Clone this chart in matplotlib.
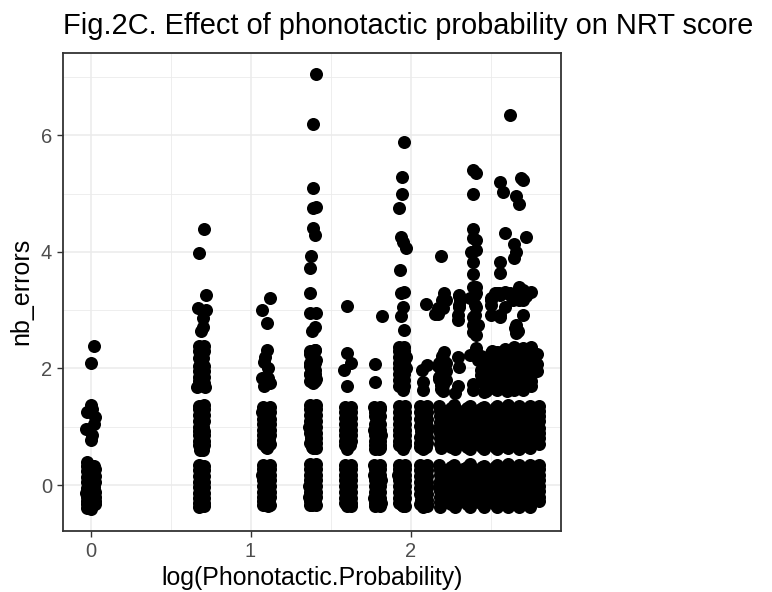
import matplotlib
matplotlib.use("Agg")
import matplotlib.pyplot as plt

plt.rcParams['font.family'] = ['Liberation Sans', 'DejaVu Sans']

title = "Fig.2C. Effect of phonotactic probability on NRT score"
x_label = "log(Phonotactic.Probability)"
y_label = "nb_errors"
x_major = [0, 1, 2]
x_minor = [0.5, 1.5, 2.5]
y_major = [0, 2, 4, 6]
y_minor = [1, 3, 5, 7]

# One pair of lists per probability column
x_c0 = [0.02,0.0,0.0,-0.025,0.03,-0.03,0.012,0.0,0.01,0.02, -0.02,0.02,-0.02,0.025,-0.025,0.02,-0.028,0.025,-0.02,0.025,-0.025,0.0,
        0.025,0.025,0.025,0.025,-0.025,-0.025,-0.025,-0.025,-0.025]
y_c0 = [2.38,2.09,1.38,1.25,1.17,0.96,0.86,0.77,1.3,1.05, 0.39,0.33,0.24,0.15,0.05,-0.04,-0.13,-0.21,-0.28,-0.33,-0.39,-0.41,
        0.27,0.06,-0.12,-0.27,0.32,0.14,-0.05,-0.2,-0.33]

x_c1 = [0.71,0.675,0.72,0.67,0.72,0.70,0.705,0.69,0.71,0.675,0.70,0.68,0.71,0.68,0.665,0.715,
        0.71,0.68,0.71,0.675,0.705,0.675,0.71,0.68,0.71,0.685,0.70,
        0.68,0.71,0.675,0.71,0.675,0.71,0.68,0.71,0.675,
        0.71,0.71,0.71,0.71,0.71,0.68,0.68,0.68,0.68,
        0.71,0.71,0.71,0.71,0.68,0.68,0.68,0.68,0.68,
        0.71,0.71,0.71,0.71,0.68,0.68,0.68,0.68]
y_c1 = [4.39,3.98,3.26,3.03,3.0,2.86,2.71,2.65,2.38,2.3,2.18,2.05,1.95,1.85,1.68,1.68,
        1.37,1.3,1.2,1.1,1.0,0.92,0.85,0.75,0.68,0.6,0.6,
        0.34,0.25,0.15,0.06,-0.04,-0.13,-0.22,-0.3,-0.38,
        0.33,0.15,-0.04,-0.22,-0.36,0.25,0.06,-0.13,-0.3,
        1.3,1.1,0.92,0.75,1.36,1.2,1.0,0.85,0.68,
        2.3,2.05,1.85,1.75,2.38,2.18,1.95,1.78]

x_c2 = [1.12,1.07,1.10,1.105,1.09,1.085,1.11,1.07,1.11,1.085,1.12,
        1.12,1.07,1.12,1.08,1.12,1.075,1.115,1.08,1.10,
        1.08,1.12,1.07,1.12,1.075,1.12,1.08,1.115,1.08,1.11,
        1.12,1.12,1.12,1.12,1.12,1.08,1.08,1.08,1.08,
        1.12,1.12,1.12,1.12,1.075,1.075,1.075,1.075]
y_c2 = [3.2,3.0,2.78,2.32,2.2,2.11,2.0,1.83,1.83,1.7,1.75,
        1.33,1.25,1.13,1.05,0.95,0.85,0.77,0.7,0.63,
        0.35,0.28,0.18,0.08,-0.02,-0.12,-0.2,-0.28,-0.35,-0.36,
        0.35,0.18,-0.02,-0.2,-0.35,0.28,0.08,-0.12,-0.28,
        1.25,1.05,0.85,0.7,1.33,1.13,0.95,0.77]

x_c3 = [1.406,1.39,1.39,1.39,1.41,1.39,1.40,1.375,1.37,1.37,1.37,1.41,1.40,1.385,
        1.405,1.37,1.41,1.37,1.405,1.37,1.41,1.37,1.39,
        1.37,1.41,1.37,1.41,1.365,1.41,1.375,1.41,1.39,
        1.37,1.41,1.37,1.41,1.365,1.41,1.365,1.40,1.37,
        1.41,1.41,1.41,1.41,1.41,1.37,1.37,1.37,1.37,
        1.41,1.41,1.41,1.41,1.41,1.37,1.37,1.37,1.37,
        1.405,1.405,1.405,1.405,1.37,1.37,1.37]
y_c3 = [7.05,6.19,5.09,4.75,4.77,4.41,4.29,3.93,3.72,3.29,2.95,2.95,2.71,2.65,
        2.32,2.25,2.15,2.05,1.98,1.9,1.82,1.78,1.75,
        1.37,1.3,1.2,1.1,1.0,0.9,0.8,0.72,0.64,
        0.36,0.28,0.18,0.08,-0.02,-0.12,-0.2,-0.28,-0.35,
        0.36,0.18,-0.02,-0.2,-0.35,0.28,0.08,-0.12,-0.28,
        1.37,1.2,1.0,0.8,0.64,1.3,1.1,0.9,0.72,
        2.32,2.1,1.9,1.78,2.3,2.1,1.9]

x_c4 = [1.60,1.60,1.625,1.585,1.605,1.59,1.625,1.59,1.625,1.59,1.625,1.59,1.62,1.60,
        1.59,1.625,1.59,1.625,1.59,1.625,1.59,1.625,1.60,
        1.625,1.625,1.625,1.625,1.625,1.59,1.59,1.59,1.59,
        1.625,1.625,1.625,1.625,1.59,1.59,1.59,1.59]
y_c4 = [3.07,2.27,2.09,1.97,1.7,1.33,1.25,1.15,1.05,0.95,0.85,0.75,0.68,0.62,
        0.35,0.28,0.18,0.08,-0.02,-0.12,-0.22,-0.3,-0.36,
        0.35,0.18,-0.02,-0.22,-0.36,0.28,0.08,-0.12,-0.3,
        1.33,1.15,0.95,0.75,1.25,1.05,0.85,0.68]

x_c5 = [1.82,1.775,1.775,1.77,1.81,1.775,1.81,1.77,1.815,1.78,1.81,1.78,1.80,
        1.77,1.81,1.77,1.815,1.775,1.81,1.77,1.815,1.78,
        1.81,1.81,1.81,1.81,1.81,1.775,1.775,1.775,1.775,
        1.81,1.81,1.81,1.81,1.81,1.775,1.775,1.775,1.775]
y_c5 = [2.9,2.08,1.77,1.33,1.3,1.18,1.05,0.95,0.85,0.75,0.68,0.62,0.62,
        0.35,0.28,0.18,0.08,-0.02,-0.12,-0.22,-0.3,-0.36,
        0.35,0.18,-0.02,-0.22,-0.36,0.28,0.08,-0.12,-0.3,
        1.33,1.18,0.95,0.75,0.63,1.25,1.05,0.85,0.68]

x_c6 = [1.96,1.945,1.945,1.925,1.94,1.95,1.97,1.935,1.96,1.94,1.95,1.94,1.96,
        1.96,1.93,1.97,1.93,1.97,1.93,1.96,1.93,1.95,
        1.93,1.965,1.93,1.965,1.93,1.965,1.93,1.965,1.95,
        1.93,1.965,1.92,1.965,1.925,1.965,1.93,1.96,1.95,
        1.965,1.965,1.965,1.965,1.965,1.93,1.93,1.93,1.93,
        1.965,1.965,1.965,1.965,1.93,1.93,1.93,1.93,
        1.96,1.96,1.96,1.96,1.93,1.93,1.93,1.93]
y_c6 = [5.88,5.28,5.0,4.75,4.25,4.17,4.07,3.69,3.31,3.3,3.05,2.9,2.66,
        2.37,2.3,2.2,2.1,2.0,1.9,1.8,1.7,1.63,
        1.35,1.25,1.15,1.05,0.95,0.85,0.75,0.68,0.62,
        0.35,0.28,0.18,0.08,-0.02,-0.12,-0.22,-0.3,-0.36,
        0.35,0.18,-0.02,-0.22,-0.36,0.28,0.08,-0.12,-0.3,
        1.35,1.15,0.95,0.75,1.25,1.05,0.85,0.68,
        2.3,2.1,1.9,1.7,2.37,2.2,2.0,1.8]

x_c7 = [2.095,2.10,2.07,2.08,2.08,2.06,2.10,2.06,2.10,2.065,2.10,2.06,2.095,2.08,
        2.06,2.10,2.06,2.10,2.06,2.10,2.065,2.10,2.08,
        2.10,2.10,2.10,2.10,2.10,2.06,2.06,2.06,2.06,
        2.10,2.10,2.10,2.10,2.06,2.06,2.06,2.06]
y_c7 = [3.1,2.06,1.97,1.77,1.63,1.35,1.25,1.13,1.02,0.92,0.82,0.72,0.65,0.62,
        0.35,0.25,0.15,0.05,-0.05,-0.15,-0.25,-0.32,-0.37,
        0.35,0.15,-0.05,-0.25,-0.36,0.25,0.05,-0.15,-0.32,
        1.35,1.13,0.92,0.72,1.25,1.02,0.82,0.65]

# Centre of the narrow columns, where the points overlap into solid bars
x_fill = [0.0,0.0,0.0,0.0,0.0,0.0,0.0,0.0,
          0.69,0.695,0.69,0.695,0.69,0.69,0.695,0.69, 0.69,0.695,0.69,0.695,0.69,0.69,0.695,0.69, 0.69,0.695,0.69,0.69,0.695,0.69,
          1.10,1.095,1.10,1.10,1.095,1.10,1.10,1.095, 1.10,1.095,1.10,1.10,1.095,1.10,1.10,1.095,
          1.385,1.39,1.385,1.385,1.39,1.385,1.39,1.385, 1.385,1.39,1.385,1.385,1.39,1.385,1.39,1.385, 1.385,1.39,1.385,1.385,1.39,1.385,
          1.605,1.61,1.605,1.605,1.61,1.605,1.61,1.605, 1.605,1.61,1.605,1.605,1.61,1.605,1.61,1.605,
          1.79,1.795,1.79,1.79,1.795,1.79,1.795,1.79, 1.79,1.795,1.79,1.79,1.795,1.79,1.795,1.79,
          1.945,1.95,1.945,1.945,1.95,1.945,1.95,1.945, 1.945,1.95,1.945,1.945,1.95,1.945,1.95,1.945, 1.945,1.95,1.945,1.945,1.95,1.945,1.95,
          2.08,2.085,2.08,2.08,2.085,2.08,2.085,2.08, 2.08,2.085,2.08,2.08,2.085,2.08,2.085,2.08]
y_fill = [0.32,0.22,0.12,0.02,-0.08,-0.18,-0.28,-0.36,
          0.3,0.2,0.1,0.0,-0.1,-0.18,-0.26,-0.34, 1.32,1.22,1.12,1.02,0.92,0.82,0.72,0.64, 2.3,2.15,2.0,1.9,1.8,1.72,
          0.3,0.2,0.1,0.0,-0.1,-0.18,-0.26,-0.34, 1.3,1.2,1.1,1.0,0.9,0.82,0.74,0.66,
          0.3,0.2,0.1,0.0,-0.1,-0.18,-0.26,-0.34, 1.32,1.22,1.12,1.02,0.92,0.82,0.72,0.66, 2.28,2.18,2.08,1.98,1.88,1.8,
          0.3,0.2,0.1,0.0,-0.1,-0.18,-0.26,-0.34, 1.3,1.2,1.1,1.0,0.9,0.82,0.74,0.66,
          0.3,0.2,0.1,0.0,-0.1,-0.18,-0.26,-0.34, 1.3,1.2,1.1,1.0,0.9,0.82,0.74,0.66,
          0.3,0.2,0.1,0.0,-0.1,-0.18,-0.26,-0.34, 1.3,1.2,1.1,1.0,0.9,0.82,0.74,0.66, 2.32,2.22,2.12,2.02,1.92,1.82,1.72,
          0.3,0.2,0.1,0.0,-0.1,-0.18,-0.26,-0.34, 1.3,1.2,1.1,1.0,0.9,0.82,0.74,0.66]

x_c8 = [2.19,2.21,2.22,2.20,2.17,2.21,2.20,2.17,2.22,2.18,2.19,2.20]
y_c8 = [3.93,3.29,3.17,3.03,2.93,2.28,2.17,2.05,1.95,1.85,1.72,1.62]
x_c9 = [2.30,2.31,2.30,2.295,2.295,2.30,2.295,2.28]
y_c9 = [3.25,3.17,3.05,2.83,2.2,2.03,1.7,1.58]
x_c10 = [2.39,2.41,2.39,2.39,2.39,2.41,2.38,2.41,2.39,2.39,2.39,2.41,2.41,2.37,2.41,2.39,2.42,2.39,
         2.41,2.37,2.42,2.44,2.44,2.39,2.39]
y_c10 = [5.4,5.35,5.0,4.39,4.24,4.2,4.0,4.03,3.83,3.62,3.4,3.4,3.3,3.2,3.05,2.88,2.74,2.62,
         2.35,2.23,2.14,1.97,1.88,1.74,1.63]
x_c11 = [2.50,2.50,2.50,2.52,2.50,2.47,2.46]
y_c11 = [3.2,3.18,2.26,2.03,1.83,1.7,1.6]
x_c12 = [2.56,2.58,2.59,2.56,2.56,2.54,2.55,2.53,2.59,2.56,2.56]
y_c12 = [5.2,5.03,4.32,3.83,3.63,3.3,3.3,3.3,3.05,2.88,2.92]
x_c13 = [2.62,2.66,2.68,2.645,2.66,2.645,2.68,2.65,2.62,2.65,2.66,2.66]
y_c13 = [6.34,4.95,4.82,4.13,4.0,3.89,3.4,3.25,3.3,2.69,2.6,2.75]
x_c14 = [2.69,2.70,2.72,2.70,2.68,2.72,2.70]
y_c14 = [5.27,5.23,4.25,3.35,3.17,3.25,2.92]

# Upper cluster of the high-probability columns (about y = 1.6 to 3.3)
x_upper = [2.195,2.17,2.155,2.305,2.30,2.295,2.40,2.40,2.40,2.39,2.41,2.50,2.50,2.56,2.62,2.59,2.64,2.70,2.75,2.67,
           2.195,2.18,2.22,2.19,2.21,2.18,2.22,2.20,2.19,
           2.47,2.44,2.47,2.51,2.45,2.50,2.47,
           2.54,2.54,2.545,2.54,2.545,2.54,2.535,2.54,
           2.59,2.595,2.59,2.60,2.59,2.60,2.59,2.60,
           2.645,2.65,2.64,2.65,2.645,2.65,2.64,2.645,
           2.70,2.705,2.70,2.71,2.70,2.705,2.71,2.70,
           2.75,2.755,2.75,2.755,2.75,2.75,2.75,
           2.79,2.79,2.79,
           2.565,2.565,2.565,2.565,2.565,2.62,2.62,2.62,2.62,2.62,
           2.675,2.675,2.675,2.675,2.675,2.73,2.73,2.73,2.73,2.73]
y_upper = [3.17,3.03,2.93,3.26,3.09,2.92,3.26,3.09,2.92,2.75,2.57,3.09,2.92,3.26,3.26,3.31,3.17,3.17,3.31,2.65,
           2.22,2.1,2.1,1.98,1.9,1.82,1.8,1.72,1.65,
           2.1,2.22,1.95,2.3,1.75,1.72,1.62,
           2.28,2.15,2.02,1.92,1.82,1.75,1.65,1.63,
           2.33,2.2,2.08,1.98,1.88,1.78,1.7,1.62,
           2.36,2.22,2.1,2.0,1.9,1.8,1.7,1.63,
           2.35,2.22,2.1,2.0,1.9,1.8,1.7,1.63,
           2.36,2.22,2.1,2.0,1.88,1.78,1.7,
           2.24,2.08,1.95,
           2.28,2.12,1.96,1.84,1.72,2.3,2.14,1.95,1.84,1.72,
           2.3,2.14,1.95,1.84,1.72,2.3,2.14,1.95,1.84,1.75]

# Solid lower block, y about -0.37 to 0.35
x_low = [2.18,2.22,2.185,2.225,2.18,2.22,2.185,2.225,2.185,
         2.27,2.33,2.275,2.335,2.27,2.33,2.275,2.335,2.28,
         2.37,2.43,2.37,2.425,2.365,2.43,2.37,2.425,2.37,
         2.46,2.515,2.455,2.52,2.46,2.515,2.455,2.52,2.46,
         2.54,2.60,2.535,2.595,2.54,2.60,2.535,2.595,2.54,
         2.61,2.67,2.615,2.665,2.61,2.67,2.615,2.665,2.61,
         2.68,2.74,2.68,2.735,2.675,2.74,2.68,2.735,2.68,
         2.745,2.80,2.75,2.80,2.745,2.80,2.75,2.80,2.745,
         2.20,2.30,2.40,2.49,2.565,2.64,2.71,2.775,
         2.20,2.30,2.40,2.49,2.565,2.64,2.71,2.775,
         2.20,2.30,2.40,2.49,2.565,2.64,2.71,2.775,
         2.20,2.30,2.40,2.49,2.565,2.64,2.71,2.775,
         2.25,2.35,2.445,2.53,2.605,2.675,2.74,
         2.25,2.35,2.445,2.53,2.605,2.675,2.74,
         2.25,2.35,2.445,2.53,2.605,2.675,2.74,
         2.25,2.35,2.445,2.53,2.605,2.675,2.74,
         2.25,2.35,2.445,2.53,2.605,2.675,2.74,
         2.80,2.80,2.80,2.80,2.185,2.185,2.185,2.185]
y_low = [0.35,0.26,0.17,0.07,-0.02,-0.11,-0.2,-0.29,-0.37,
         0.35,0.27,0.16,0.08,-0.03,-0.1,-0.2,-0.28,-0.37,
         0.36,0.26,0.17,0.07,-0.02,-0.11,-0.2,-0.29,-0.37,
         0.33,0.27,0.16,0.08,-0.03,-0.1,-0.2,-0.28,-0.37,
         0.35,0.26,0.17,0.07,-0.02,-0.11,-0.2,-0.29,-0.37,
         0.36,0.27,0.16,0.08,-0.03,-0.1,-0.2,-0.28,-0.37,
         0.35,0.26,0.17,0.07,-0.02,-0.11,-0.2,-0.29,-0.37,
         0.35,0.27,0.16,0.08,-0.03,-0.1,-0.2,-0.28,-0.37,
         0.24,0.24,0.24,0.24,0.24,0.24,0.24,0.24,
         0.08,0.08,0.08,0.08,0.08,0.08,0.08,0.08,
         -0.08,-0.08,-0.08,-0.08,-0.08,-0.08,-0.08,-0.08,
         -0.24,-0.24,-0.24,-0.24,-0.24,-0.24,-0.24,-0.24,
         0.31,0.31,0.31,0.31,0.31,0.31,0.31,
         0.16,0.16,0.16,0.16,0.16,0.16,0.16,
         0.0,0.0,0.0,0.0,0.0,0.0,0.0,
         -0.16,-0.16,-0.16,-0.16,-0.16,-0.16,-0.16,
         -0.32,-0.32,-0.32,-0.32,-0.32,-0.32,-0.32,
         0.35,0.17,-0.02,-0.2,0.26,0.07,-0.11,-0.29]

# Solid middle block, y about 0.62 to 1.37
x_mid = [2.18,2.22,2.185,2.225,2.18,2.22,2.185,2.225,2.19,
         2.27,2.33,2.275,2.335,2.27,2.33,2.275,2.335,2.28,
         2.37,2.43,2.37,2.425,2.365,2.43,2.37,2.425,2.37,
         2.46,2.515,2.455,2.52,2.46,2.515,2.455,2.52,2.46,
         2.54,2.60,2.535,2.595,2.54,2.60,2.535,2.595,2.54,
         2.61,2.67,2.615,2.665,2.61,2.67,2.615,2.665,2.61,
         2.68,2.74,2.68,2.735,2.675,2.74,2.68,2.735,2.68,
         2.745,2.80,2.75,2.80,2.745,2.80,2.75,2.80,2.745,
         2.20,2.30,2.40,2.49,2.565,2.64,2.71,2.775,
         2.20,2.30,2.40,2.49,2.565,2.64,2.71,2.775,
         2.20,2.30,2.40,2.49,2.565,2.64,2.71,2.775,
         2.20,2.30,2.40,2.49,2.565,2.64,2.71,2.775,
         2.25,2.35,2.445,2.53,2.605,2.675,2.74,
         2.25,2.35,2.445,2.53,2.605,2.675,2.74,
         2.25,2.35,2.445,2.53,2.605,2.675,2.74,
         2.25,2.35,2.445,2.53,2.605,2.675,2.74,
         2.25,2.35,2.445,2.53,2.605,2.675,2.74,
         2.80,2.80,2.80,2.80,2.185,2.185,2.185,2.185]
y_mid = [1.36,1.27,1.18,1.08,0.98,0.89,0.8,0.71,0.63,
         1.37,1.27,1.17,1.09,0.97,0.89,0.79,0.71,0.62,
         1.36,1.28,1.18,1.08,0.98,0.88,0.8,0.7,0.62,
         1.34,1.27,1.17,1.09,0.97,0.89,0.79,0.71,0.62,
         1.36,1.27,1.18,1.08,0.98,0.89,0.8,0.71,0.62,
         1.37,1.27,1.17,1.09,0.97,0.89,0.79,0.71,0.63,
         1.36,1.27,1.18,1.08,0.98,0.89,0.8,0.71,0.62,
         1.36,1.27,1.17,1.09,0.97,0.89,0.79,0.71,0.63,
         1.22,1.22,1.22,1.22,1.22,1.22,1.22,1.22,
         1.06,1.06,1.06,1.06,1.06,1.06,1.06,1.06,
         0.9,0.9,0.9,0.9,0.9,0.9,0.9,0.9,
         0.74,0.74,0.74,0.74,0.74,0.74,0.74,0.74,
         1.32,1.32,1.32,1.32,1.32,1.32,1.32,
         1.14,1.14,1.14,1.14,1.14,1.14,1.14,
         0.98,0.98,0.98,0.98,0.98,0.98,0.98,
         0.82,0.82,0.82,0.82,0.82,0.82,0.82,
         0.66,0.66,0.66,0.66,0.66,0.66,0.66,
         1.36,1.18,0.98,0.8,1.27,1.08,0.89,0.71]

columns = [(x_c0, y_c0), (x_c1, y_c1), (x_c2, y_c2), (x_c3, y_c3),
           (x_c4, y_c4), (x_c5, y_c5), (x_c6, y_c6), (x_c7, y_c7),
           (x_c8, y_c8), (x_c9, y_c9), (x_c10, y_c10), (x_c11, y_c11),
           (x_c12, y_c12), (x_c13, y_c13), (x_c14, y_c14),
           (x_fill, y_fill), (x_upper, y_upper), (x_low, y_low), (x_mid, y_mid)]

W, H = 772, 592
fig = plt.figure(figsize=(W / 100, H / 100), dpi=100)
ax = fig.add_axes([63 / W, 1 - 530.5 / H, (561 - 63) / W, (530.5 - 53) / H])

for xs, ys in columns:
    ax.scatter(xs, ys, s=88, c='black', linewidths=0, zorder=3)

ax.set_xlim(-0.172, 2.94)
ax.set_ylim(-0.78, 7.41)
ax.set_xticks(x_major)
ax.set_yticks(y_major)
ax.set_xticks(x_minor, minor=True)
ax.set_yticks(y_minor, minor=True)
ax.grid(True, which='major', color='#ebebeb', linewidth=1.15, zorder=0)
ax.grid(True, which='minor', color='#ebebeb', linewidth=0.6, zorder=0)
ax.set_axisbelow(True)
ax.tick_params(which='minor', length=0)
ax.tick_params(which='major', length=4, width=1.0, color='#333333',
               labelcolor='#4d4d4d', labelsize=14.5, pad=4)
for s in ax.spines.values():
    s.set_color('#333333')
    s.set_linewidth(1.3)
    s.set_zorder(5)

ax.set_xlabel(x_label, fontsize=17.9, color='black')
ax.xaxis.set_label_coords(0.5, (530.5 - 585) / (530.5 - 53), transform=ax.transAxes)
ax.xaxis.label.set_va('baseline')
ax.set_ylabel(y_label, fontsize=18, color='black')
ax.yaxis.set_label_coords((28.5 - 63) / (561 - 63), 0.5, transform=ax.transAxes)
ax.yaxis.label.set_va('baseline')
fig.text(63 / W, 1 - 33.5 / H, title, fontsize=20.85, color='black', ha='left', va='baseline')

fig.savefig('out.png', dpi=100)
